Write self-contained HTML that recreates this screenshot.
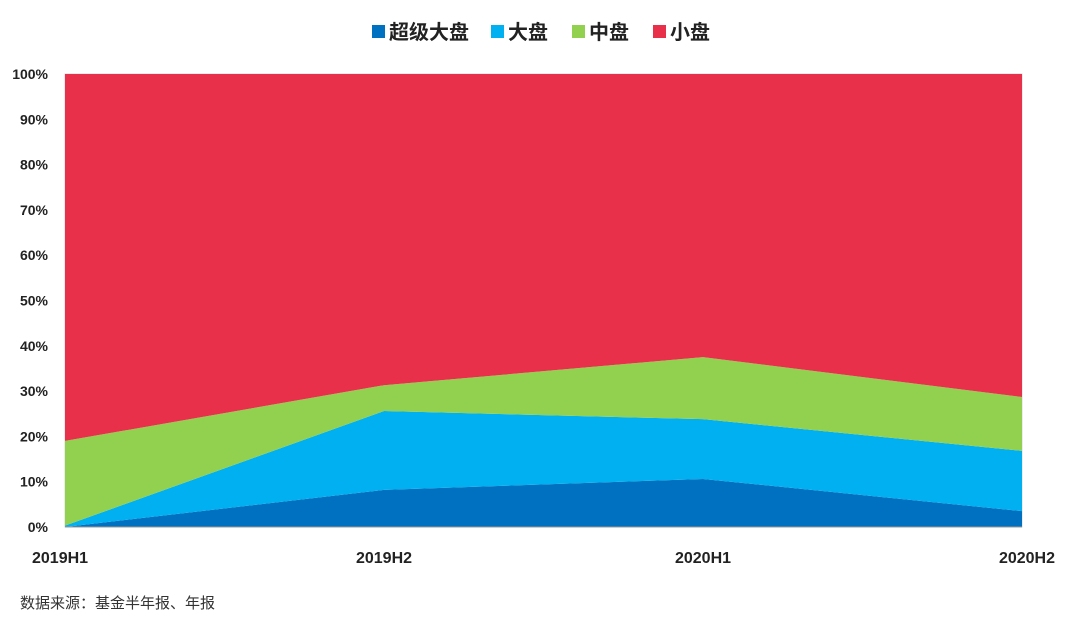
<!DOCTYPE html>
<html><head><meta charset="utf-8">
<style>
body{margin:0;background:#fff;width:1070px;height:623px;overflow:hidden;font-family:"Liberation Sans","Noto Sans CJK SC",sans-serif;}
svg text{font-family:"Liberation Sans","Noto Sans CJK SC",sans-serif;}
</style></head>
<body>
<svg id="chart" width="1070" height="623" viewBox="0 0 1070 623" xmlns="http://www.w3.org/2000/svg">
<g id="legend"></g>
<g id="grid"><rect x="65" y="74" width="957" height="453" fill="#fff" stroke="#d9d9d9"/></g>
<g id="areas"></g>
<g id="yaxis"></g>
<g id="xaxis"></g>
<text x="20" y="608" font-size="15" fill="#333">数据来源：基金半年报、年报</text>
</svg>
<script>
const categories=["2019H1","2019H2","2020H1","2020H2"];
const seriesNames=["超级大盘","大盘","中盘","小盘"];
const superLarge=[0,8.2,10.6,3.5];
const large=[0.3,17.4,13.2,13.3];
const mid=[18.7,5.7,13.7,11.9];
const small=[81,68.7,62.5,71.3];
const yTicks=[0,10,20,30,40,50,60,70,80,90,100];
const colors=["#0070c0","#00b0f0","#92d050","#e9304a"];
const X0=65,X1=1022,Y0=527,Y1=74;
const ns="http://www.w3.org/2000/svg";
const xs=i=>X0+(X1-X0)*i/(categories.length-1);
const ys=v=>Y0-(Y0-Y1)*v/100;
function mk(t,a,p){const e=document.createElementNS(ns,t);for(const k in a)e.setAttribute(k,a[k]);p.appendChild(e);return e;}
const series=[superLarge,large,mid,small];
let base=categories.map(()=>0);
const areas=document.getElementById('areas');
series.forEach((s,si)=>{
  const top=base.map((b,i)=>b+s[i]);
  let d="M"+categories.map((c,i)=>xs(i)+","+ys(top[i])).join(" L");
  for(let i=categories.length-1;i>=0;i--)d+=" L"+xs(i)+","+ys(base[i]);
  const p=mk('path',{d:d+"Z",fill:colors[si]},areas);
  
  
  base=top;
});
const ya=document.getElementById('yaxis');
yTicks.forEach(v=>{
  const t=mk('text',{x:48,y:ys(v)+5,'font-size':14,'font-weight':'bold','text-anchor':'end',fill:'#222'},ya);
  t.textContent=v+"%";
  
  
});
mk('line',{x1:X0,y1:Y0,x2:X1,y2:Y0,stroke:'#999'},ya);
const xa=document.getElementById('xaxis');
categories.forEach((c,i)=>{
  const anchor=i==0?'start':(i==categories.length-1?'end':'middle');
  const x=i==0?32:(i==categories.length-1?1055:xs(i));
  const t=mk('text',{x:x,y:563,'font-size':16,'font-weight':'bold','text-anchor':anchor,fill:'#222'},xa);
  t.textContent=c;
  
  
});
const lg=document.getElementById('legend');
const lx=[372,491,572,653];
seriesNames.forEach((n,i)=>{
  const g=mk('g',{},lg);
  
  
  mk('rect',{x:lx[i],y:25,width:13,height:13,fill:colors[i]},g);
  const t=mk('text',{x:lx[i]+17,y:39,'font-size':20,'font-weight':'bold',fill:'#222'},g);
  t.textContent=n;
});
</script>
</body></html>
